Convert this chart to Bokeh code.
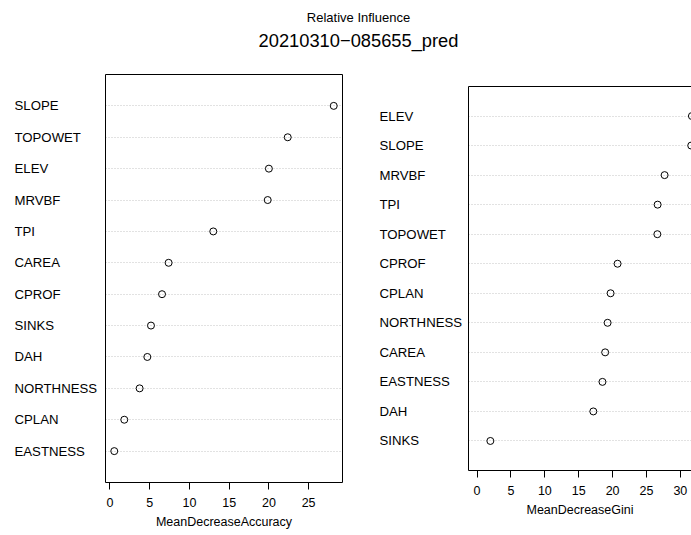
from bokeh.plotting import figure
from bokeh.layouts import column, row
from bokeh.models import Range1d, FixedTicker, LinearAxis, Spacer
from bokeh.core.properties import value
from bokeh.embed import file_html
from bokeh.resources import INLINE

# ---------------- data ----------------
title_sub = "Relative Influence"
title_main = "20210310\u2212085655_pred"

acc_vars = ["SLOPE", "TOPOWET", "ELEV", "MRVBF", "TPI", "CAREA", "CPROF",
            "SINKS", "DAH", "NORTHNESS", "CPLAN", "EASTNESS"]
acc_vals = [28.16, 22.37, 20.0, 19.85, 13.0, 7.38, 6.55, 5.16, 4.70, 3.73, 1.80, 0.54]
acc_label = "MeanDecreaseAccuracy"
acc_ticks = [0, 5, 10, 15, 20, 25]

gini_vars = ["ELEV", "SLOPE", "MRVBF", "TPI", "TOPOWET", "CPROF", "CPLAN",
             "NORTHNESS", "CAREA", "EASTNESS", "DAH", "SINKS"]
gini_vals = [31.7, 31.6, 27.67, 26.64, 26.6, 20.73, 19.7, 19.26, 18.9, 18.5, 17.15, 1.96]
gini_label = "MeanDecreaseGini"
gini_ticks = [0, 5, 10, 15, 20, 25, 30]

# ---------------- styling ----------------
FONT = "Liberation Sans"
GRID = "#c4c4c4"
TOP, BOTTOM = 13, 53


def positions(n):
    return [n - i for i in range(n)]


def style_xaxis(ax, ticks, label):
    ax.ticker = FixedTicker(ticks=ticks, minor_ticks=[])
    ax.axis_label = label
    ax.axis_line_color = "black"
    ax.major_tick_out = 7
    ax.major_tick_in = 0
    ax.minor_tick_out = 0
    ax.minor_tick_in = 0
    ax.major_tick_line_color = "black"
    ax.major_label_text_font = FONT
    ax.major_label_text_font_size = "12.5px"
    ax.major_label_text_color = "black"
    ax.major_label_standoff = 8
    ax.axis_label_text_font = FONT
    ax.axis_label_text_font_size = "12.5px"
    ax.axis_label_text_font_style = "normal"
    ax.axis_label_text_color = "black"
    ax.axis_label_standoff = 5


def box_edges(f, sides):
    # edges of the R box; the x axis line gives the bottom edge
    for loc in sides:
        ax = LinearAxis(ticker=FixedTicker(ticks=[], minor_ticks=[]),
                        major_tick_out=0, major_tick_in=0, minor_tick_out=0,
                        minor_tick_in=0, major_label_standoff=0,
                        axis_line_color="black")
        f.add_layout(ax, loc)


def label_fig(names, y_range, width, height):
    f = figure(width=width, height=height, x_range=Range1d(0, 1), y_range=y_range,
               x_axis_type=None, y_axis_type=None, output_backend="svg",
               toolbar_location=None, min_border_left=14, min_border_right=0,
               min_border_top=TOP, min_border_bottom=BOTTOM)
    f.outline_line_color = None
    f.grid.visible = False
    n = len(names)
    f.text(x=[0] * n, y=positions(n), text=names, text_font=value(FONT),
           text_font_size="13.2px", text_align="left", text_baseline="middle",
           text_color="black")
    return f


def dots(f, vals):
    n = len(vals)
    f.hspan(y=positions(n), line_color=GRID, line_dash="1 2", line_width=1)
    f.scatter(x=vals, y=positions(n), marker="circle", size=7,
              fill_color=None, line_color="black", line_width=1)


# ---------------- title ----------------
t = figure(width=691, height=60, x_range=Range1d(0, 691), y_range=Range1d(60, 0),
           x_axis_type=None, y_axis_type=None, output_backend="svg",
           toolbar_location=None, min_border=0)
t.outline_line_color = None
t.grid.visible = False
t.text(x=[358], y=[17.3], text=[title_sub], text_font=value(FONT),
       text_font_size="13px", text_align="center", text_baseline="alphabetic",
       text_color="black")
t.text(x=[358], y=[39.5], text=[title_main], text_font=value(FONT),
       text_font_size="18.3px", text_align="center", text_baseline="alphabetic",
       text_color="black")

# ---------------- left panel (accuracy) ----------------
H1 = TOP + 408 + BOTTOM
n1 = len(acc_vals)
lo, hi = min(acc_vals), max(acc_vals)
ext = 0.04 * (hi - lo)
yr1 = Range1d(0, n1 + 1)
p1 = figure(width=260, height=H1, x_range=Range1d(lo - ext, hi + ext), y_range=yr1,
            y_axis_type=None, output_backend="svg", toolbar_location=None,
            min_border_left=0, min_border_right=23, min_border_top=TOP,
            min_border_bottom=BOTTOM)
p1.grid.visible = False
p1.outline_line_color = None
style_xaxis(p1.xaxis[0], acc_ticks, acc_label)
box_edges(p1, ("left", "above", "right"))
dots(p1, acc_vals)
l1 = label_fig(acc_vars, yr1, 105, H1)

# ---------------- right panel (gini) ----------------
H2 = TOP + 384 + BOTTOM
n2 = len(gini_vals)
hi2 = max(gini_vals)
x0 = -0.04 * hi2
x1 = 1.04 * hi2
full_w, vis_w = 232, 223          # panel is cut off by the page edge
yr2 = Range1d(0, n2 + 1)
p2 = figure(width=vis_w, height=H2, x_range=Range1d(x0, x0 + (x1 - x0) * vis_w / full_w),
            y_range=yr2, y_axis_type=None, output_backend="svg",
            toolbar_location=None, min_border_left=0, min_border_right=0,
            min_border_top=TOP, min_border_bottom=BOTTOM)
p2.grid.visible = False
p2.outline_line_color = None
style_xaxis(p2.xaxis[0], gini_ticks, gini_label)
box_edges(p2, ("left", "above"))
dots(p2, gini_vals)
l2 = label_fig(gini_vars, yr2, 103, H2)

left = column(Spacer(width=365, height=1), row(l1, p1))
right = column(Spacer(width=326, height=13), row(l2, p2))
layout = column(t, row(left, right))
open("out.html", "w").write(file_html(layout, INLINE))
